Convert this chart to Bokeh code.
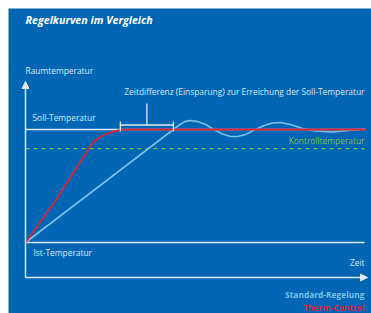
from bokeh.plotting import figure
from bokeh.models import Range1d, Arrow, NormalHead, Label
from bokeh.embed import file_html
from bokeh.resources import INLINE

# ---- data (time 0..100, temperature: Ist=0, Soll=100) ----
ist_temp = 0
soll_temp = 100
kontroll_temp = 83

therm_x = [0, 8.8, 18.2, 19.7, 22.1, 24.1, 25.9, 27.9, 30.9, 100]
therm_y = [0, 37.2, 81.4, 88.5, 93.8, 96.5, 98.2, 99.6, 100, 100]

std_x = [0, 43.5, 45.0, 46.8, 48.5, 50.6, 53.0, 55.3, 57.9, 60.3, 62.4, 64.7,
         67.6, 70.6, 72.6, 75.0, 77.9, 81.5, 85.3, 90.3, 94.1, 100]
std_y = [0, 100, 103.5, 107, 108, 107, 104.4, 100, 96, 93.8, 93.8, 95.6,
         100, 104, 105.8, 106.2, 104.4, 100.9, 98.7, 97.8, 99, 100.4]

gap_start = 27.9   # Therm-Control reaches Soll
gap_end = 43.5     # Standard reaches Soll

title = "Regelkurven im Vergleich"
y_label = "Raumtemperatur"
x_label = "Zeit"
gap_label = "Zeitdifferenz (Einsparung) zur Erreichung der Soll-Temperatur"
soll_label = "Soll-Temperatur"
ist_label = "Ist-Temperatur"
kontroll_label = "Kontrolltemperatur"
legend_std = "Standard-Regelung"
legend_tc = "Therm-Control"

# ---- layout helpers (page pixel -> data) ----
X0, XS = 25.0, 3.4
Y0, YS = 242.0, 1.13
def px(x):
    return (x - X0) / XS
def py(y):
    return (Y0 - y) / YS

BG = "#0066b3"
LIGHT = "#dbe8f5"
STD_C = "#7cc0ea"
TC_C = "#d9253b"
GREEN = "#7dbf45"
FONT = "Open Sans"

p = figure(width=371, height=313, output_backend="svg", toolbar_location=None,
           x_range=Range1d(px(8), px(371)), y_range=Range1d(py(313), py(8)),
           min_border_left=8, min_border_top=8, min_border_right=0,
           min_border_bottom=0, background_fill_color=BG,
           border_fill_color="white", outline_line_color=None)
p.axis.visible = False
p.grid.visible = False

# baseline (Ist) and Soll line
p.line([0, px(364)], [ist_temp, ist_temp], line_color=LIGHT, line_width=1.3)
p.line([0, px(364)], [soll_temp, soll_temp], line_color=LIGHT, line_width=1.3)
# Kontroll dashed
p.line([0, px(364)], [kontroll_temp, kontroll_temp], line_color=GREEN,
       line_width=1.2, line_dash="4 4")

# curves
p.line(std_x, std_y, line_color=STD_C, line_width=1.6, line_join="round")
p.line(therm_x, therm_y, line_color=TC_C, line_width=1.8, line_join="round")

# axes arrows
p.add_layout(Arrow(end=NormalHead(size=7, fill_color=LIGHT, line_color=LIGHT),
                   x_start=0, y_start=py(277), x_end=0, y_end=py(81),
                   line_color=LIGHT, line_width=1.5))
p.add_layout(Arrow(end=NormalHead(size=7, fill_color=LIGHT, line_color=LIGHT),
                   x_start=0, y_start=py(277), x_end=px(367), y_end=py(277),
                   line_color=LIGHT, line_width=1.5))

# bracket for time difference
by = py(124.5)
p.line([gap_start, gap_end], [by, by], line_color=LIGHT, line_width=1.3)
p.line([gap_start, gap_start], [py(121), py(131)], line_color=LIGHT, line_width=1.3)
p.line([gap_end, gap_end], [py(121), py(131)], line_color=LIGHT, line_width=1.3)
mid = (gap_start + gap_end) / 2
p.line([mid, mid], [py(103), by], line_color=LIGHT, line_width=1.3)

def lab(text, x, y, size, color, align="left", style="normal"):
    p.add_layout(Label(x=x, y=y, text=text, text_font=FONT, text_font_size=size,
                       text_color=color, text_align=align, text_baseline="middle",
                       text_font_style=style))

lab(title, px(25), py(19), "10.7px", "white", style="bold italic")
lab(y_label, px(25), py(70), "8.4px", LIGHT)
lab(gap_label, px(364), py(91), "8.4px", LIGHT, align="right")
lab(soll_label, px(32), py(117), "8.4px", LIGHT)
lab(kontroll_label, px(364), py(140), "8.4px", GREEN, align="right")
lab(ist_label, px(33), py(252), "8.4px", LIGHT)
lab(x_label, px(364), py(262), "8.4px", LIGHT, align="right")
lab(legend_std, px(364), py(294), "8.4px", STD_C, align="right", style="bold")
lab(legend_tc, px(364), py(307), "8.4px", TC_C, align="right", style="bold")

open("out.html", "w").write(file_html(p, INLINE))
